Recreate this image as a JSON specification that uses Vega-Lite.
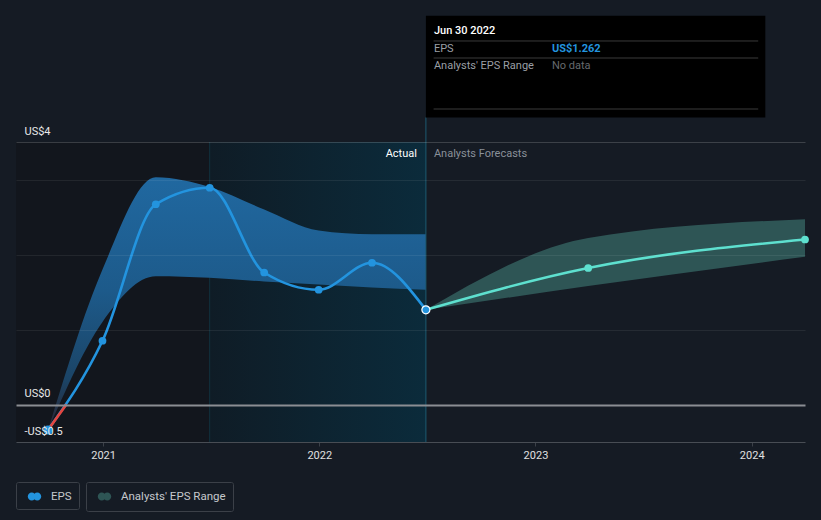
{
  "$schema": "https://vega.github.io/schema/vega-lite/v6.json",
  "width": 789,
  "height": 300,
  "autosize": {"type": "none"},
  "padding": {"left": 16, "top": 142, "right": 16, "bottom": 78},
  "background": "#151b24",
  "config": {"view": {"stroke": null}, "font": "Roboto", "text": {"font": "Roboto"}},
  "datasets": {
    "eps": [
      {"date": "2020-09-30T00:00", "v": -0.34},
      {"date": "2020-12-31T00:00", "v": 0.85},
      {"date": "2021-03-31T00:00", "v": 2.67},
      {"date": "2021-06-30T00:00", "v": 2.89},
      {"date": "2021-09-30T00:00", "v": 1.76},
      {"date": "2021-12-31T00:00", "v": 1.53},
      {"date": "2022-03-31T00:00", "v": 1.89},
      {"date": "2022-06-30T00:00", "v": 1.262}
    ],
    "fc": [
      {"date": "2022-06-30T00:00", "v": 1.262},
      {"date": "2023-03-31T00:00", "v": 1.82},
      {"date": "2024-03-31T00:00", "v": 2.2}
    ],
    "band": [
      {"date": "2020-09-30T00:00", "v": -0.34, "v2": -0.34},
      {"date": "2020-12-31T00:00", "v": 1.1, "v2": 1.8},
      {"date": "2021-03-31T00:00", "v": 1.71, "v2": 3.03},
      {"date": "2021-06-30T00:00", "v": 1.69, "v2": 2.9},
      {"date": "2021-09-30T00:00", "v": 1.64, "v2": 2.6},
      {"date": "2021-12-31T00:00", "v": 1.6, "v2": 2.32},
      {"date": "2022-03-31T00:00", "v": 1.56, "v2": 2.27},
      {"date": "2022-06-30T00:00", "v": 1.53, "v2": 2.27}
    ],
    "fband": [
      {"date": "2022-06-30T00:00", "v": 1.262, "v2": 1.262},
      {"date": "2023-03-31T00:00", "v": 1.58, "v2": 2.22},
      {"date": "2024-03-31T00:00", "v": 1.97, "v2": 2.47}
    ]
  },
  "encoding": {
    "x": {
      "field": "date",
      "type": "temporal",
      "scale": {"domain": [{"year": 2020, "month": 8, "date": 7}, {"year": 2024, "month": 3, "date": 31}]},
      "axis": {
        "values": [{"year": 2021}, {"year": 2022}, {"year": 2023}, {"year": 2024}],
        "format": "%Y",
        "title": null,
        "grid": false,
        "domainColor": "#3b4048",
        "tickColor": "#3b4048",
        "tickSize": 4,
        "labelPadding": 3,
        "labelFont": "Roboto",
        "labelFontSize": 11,
        "labelColor": "#e0e0e0",
        "labelFlush": false,
        "labelOverlap": false
      }
    },
    "y": {
      "field": "v",
      "type": "quantitative",
      "scale": {"domain": [-0.5, 3.5], "nice": false, "zero": false},
      "axis": {
        "values": [-0.5, 0, 1, 2, 3, 3.5],
        "title": null,
        "domain": false,
        "ticks": false,
        "tickSize": 0,
        "labelPadding": -8,
        "labelAlign": "left",
        "labelBaseline": "alphabetic",
        "labelOffset": -8,
        "labelOverlap": false,
        "labelFont": "Roboto",
        "labelFontSize": 11,
        "labelColor": "#e8e8e8",
        "labelExpr": "datum.value==3.5?'US$4':datum.value==0?'US$0':datum.value==-0.5?'-US$0.5':''",
        "grid": true,
        "gridColor": {"condition": [{"test": "datum.value===0", "value": "#8b8e93"}, {"test": "datum.value===3.5", "value": "rgba(255,255,255,0.17)"}], "value": "rgba(255,255,255,0.07)"},
        "gridWidth": {"condition": {"test": "datum.value===0", "value": 2}, "value": 1},
        "zindex": 1
      }
    }
  },
  "layer": [
    {
      "data": {"values": [{"date": "2020-08-07T00:00", "date2": "2021-06-30T00:00", "v": -0.5, "v2": 3.5}]},
      "mark": {"type": "rect", "color": "#12161d"},
      "encoding": {"x2": {"field": "date2"}, "y2": {"field": "v2"}}
    },
    {
      "data": {"values": [{"date": "2021-06-30T00:00", "date2": "2022-06-30T00:00", "v": -0.5, "v2": 3.5}]},
      "mark": {"type": "rect", "color": {"gradient": "linear", "x1": 0, "y1": 0, "x2": 1, "y2": 0, "stops": [{"offset": 0, "color": "#0f1c26"}, {"offset": 1, "color": "#0b2b3b"}]}},
      "encoding": {"x2": {"field": "date2"}, "y2": {"field": "v2"}}
    },
    {
      "data": {"values": [{"date": "2021-06-30T00:00", "v": -0.5, "v2": 3.5}]},
      "mark": {"type": "rule", "color": "#11323e", "strokeWidth": 1},
      "encoding": {"y2": {"field": "v2"}}
    },
    {
      "data": {"name": "band"},
      "mark": {"type": "area", "interpolate": "monotone", "color": {"gradient": "linear", "x1": 0, "y1": 0, "x2": 0, "y2": 1, "stops": [{"offset": 0, "color": "#2068a0"}, {"offset": 0.45, "color": "#1d5a8a"}, {"offset": 0.8, "color": "#1b4466"}, {"offset": 1, "color": "#2a2430"}]}},
      "encoding": {"y2": {"field": "v2"}}
    },
    {
      "data": {"name": "fband"},
      "mark": {"type": "area", "interpolate": "monotone"},
      "encoding": {
        "y2": {"field": "v2"},
        "fill": {
          "datum": "Analysts' EPS Range",
          "type": "nominal",
          "scale": {"range": ["#2e5555"]},
          "legend": {
            "orient": "none",
            "legendX": 70,
            "legendY": 340,
            "direction": "horizontal",
            "title": null,
            "padding": 7,
            "strokeColor": "#3b4048",
            "cornerRadius": 2,
            "symbolType": "M-1,0A0.59,0.59,0,1,0,0.18,0A0.59,0.59,0,1,0,-1,0ZM-0.18,0A0.59,0.59,0,1,0,1,0A0.59,0.59,0,1,0,-0.18,0Z",
            "symbolSize": 182,
            "symbolOffset": 4,
            "labelOffset": 9,
            "labelFont": "Roboto",
            "labelFontSize": 11.5,
            "labelColor": "#c5c8cc",
            "encode": {"symbols": {"update": {"fill": {"value": {"gradient": "linear", "x1": 0, "y1": 0, "x2": 1, "y2": 0, "stops": [{"offset": 0, "color": "#1f5f8a"}, {"offset": 0.45, "color": "#1f5f8a"}, {"offset": 0.45, "color": "#3d8a80"}, {"offset": 1, "color": "#3d8a80"}]}}, "stroke": {"value": "transparent"}, "opacity": {"value": 1}, "fillOpacity": {"value": 1}}}}
          }
        }
      }
    },
    {
      "data": {"values": [{"date": "2022-06-30T00:00", "v": -0.5, "v2": 3.828}]},
      "mark": {"type": "rule", "color": "#1d5a70", "strokeWidth": 1},
      "encoding": {"y2": {"field": "v2"}}
    },
    {
      "data": {"name": "eps"},
      "mark": {"type": "line", "interpolate": "monotone", "color": "#2394df", "strokeWidth": 2.6}
    },
    {
      "data": {"values": [{"date": "2020-09-30T00:00", "v": -0.34}, {"date": "2020-10-31T00:00", "v": 0}]},
      "mark": {"type": "line", "color": "#e5453f", "strokeWidth": 2.6}
    },
    {
      "data": {"name": "fc"},
      "mark": {"type": "line", "interpolate": "monotone", "color": "#5ee0cf", "strokeWidth": 2.6}
    },
    {
      "data": {"name": "eps"},
      "mark": {"type": "point", "filled": true, "size": 60, "opacity": 1},
      "encoding": {
        "color": {
          "datum": "EPS",
          "type": "nominal",
          "scale": {"range": ["#2394df"]},
          "legend": {
            "orient": "none",
            "legendX": 0,
            "legendY": 340,
            "direction": "horizontal",
            "title": null,
            "padding": 7,
            "strokeColor": "#3b4048",
            "cornerRadius": 2,
            "symbolType": "M-1,0A0.59,0.59,0,1,0,0.18,0A0.59,0.59,0,1,0,-1,0ZM-0.18,0A0.59,0.59,0,1,0,1,0A0.59,0.59,0,1,0,-0.18,0Z",
            "symbolSize": 182,
            "symbolOffset": 4,
            "labelOffset": 9,
            "labelFont": "Roboto",
            "labelFontSize": 11.5,
            "labelColor": "#c5c8cc",
            "encode": {"symbols": {"update": {"fill": {"value": {"gradient": "linear", "x1": 0, "y1": 0, "x2": 1, "y2": 0, "stops": [{"offset": 0, "color": "#2394df"}, {"offset": 0.45, "color": "#2394df"}, {"offset": 0.45, "color": "#5ee0cf"}, {"offset": 1, "color": "#5ee0cf"}]}}, "stroke": {"value": "transparent"}, "opacity": {"value": 1}, "fillOpacity": {"value": 1}}}}
          }
        }
      }
    },
    {
      "data": {"values": [{"date": "2020-09-30T00:00", "v": -0.34}]},
      "mark": {"type": "point", "filled": true, "size": 85, "color": "#2394df", "opacity": 1}
    },
    {
      "data": {"values": [{"date": "2022-06-30T00:00", "v": 1.262}]},
      "mark": {"type": "point", "filled": true, "size": 65, "color": "#2394df", "stroke": "#ffffff", "strokeWidth": 1.2, "opacity": 1}
    },
    {
      "data": {"values": [{"date": "2023-03-31T00:00", "v": 1.82}, {"date": "2024-03-31T00:00", "v": 2.2}]},
      "mark": {"type": "point", "filled": true, "size": 60, "color": "#5ee0cf", "opacity": 1}
    },
    {
      "data": {"values": [{"date": "2022-06-30T00:00", "date2": "2024-01-24T00:00", "v": 3.828, "v2": 5.184}]},
      "mark": {"type": "rect", "color": "#000000"},
      "encoding": {"x2": {"field": "date2"}, "y2": {"field": "v2"}}
    },
    {
      "data": {"values": [
        {"date": "2022-07-13T00:00", "date2": "2024-01-12T00:00", "v": 4.847},
        {"date": "2022-07-13T00:00", "date2": "2024-01-12T00:00", "v": 4.62},
        {"date": "2022-07-13T00:00", "date2": "2024-01-12T00:00", "v": 3.94}
      ]},
      "mark": {"type": "rule", "color": "#3a3a3a", "strokeWidth": 1},
      "encoding": {"x2": {"field": "date2"}}
    },
    {
      "data": {"values": [{"date": "2022-06-30T00:00", "v": 4.984, "t": "Jun 30 2022"}]},
      "mark": {"type": "text", "align": "left", "baseline": "middle", "dx": 8, "color": "#ffffff", "fontSize": 11, "fontWeight": 500},
      "encoding": {"text": {"field": "t"}}
    },
    {
      "data": {"values": [{"date": "2022-06-30T00:00", "v": 4.735, "t": "EPS"}, {"date": "2022-06-30T00:00", "v": 4.52, "t": "Analysts' EPS Range"}]},
      "mark": {"type": "text", "align": "left", "baseline": "middle", "dx": 8, "color": "#9a9fa5", "fontSize": 11},
      "encoding": {"text": {"field": "t"}}
    },
    {
      "data": {"values": [{"date": "2022-06-30T00:00", "v": 4.735, "t": "US$1.262"}]},
      "mark": {"type": "text", "align": "left", "baseline": "middle", "dx": 126, "color": "#2394df", "fontSize": 11, "fontWeight": "bold"},
      "encoding": {"text": {"field": "t"}}
    },
    {
      "data": {"values": [{"date": "2022-06-30T00:00", "v": 4.52, "t": "No data"}]},
      "mark": {"type": "text", "align": "left", "baseline": "middle", "dx": 126, "color": "#666a6e", "fontSize": 11},
      "encoding": {"text": {"field": "t"}}
    },
    {
      "data": {"values": [{"date": "2022-06-30T00:00", "v": 3.34, "t": "Actual"}]},
      "mark": {"type": "text", "align": "right", "baseline": "middle", "dx": -9, "color": "#ffffff", "fontSize": 11},
      "encoding": {"text": {"field": "t"}}
    },
    {
      "data": {"values": [{"date": "2022-06-30T00:00", "v": 3.34, "t": "Analysts Forecasts"}]},
      "mark": {"type": "text", "align": "left", "baseline": "middle", "dx": 8, "color": "#8a9099", "fontSize": 11},
      "encoding": {"text": {"field": "t"}}
    }
  ]
}
